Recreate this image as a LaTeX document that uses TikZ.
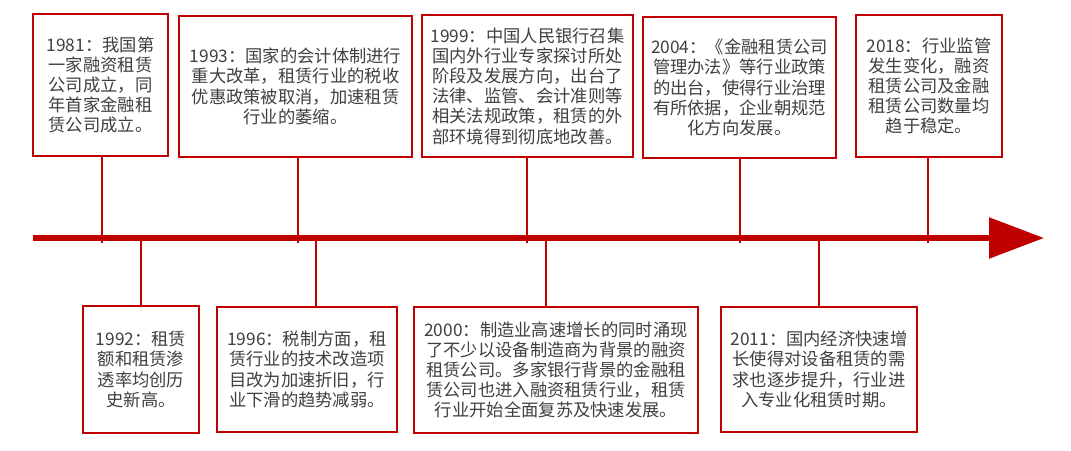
\documentclass[tikz,border=0pt]{standalone}
\usepackage{fontspec}
\newfontfamily\cjk{Noto Sans CJK SC}
\usetikzlibrary{arrows.meta}
\definecolor{dred}{HTML}{C00000}
\definecolor{txt}{HTML}{404040}
\tikzset{
  box/.style={draw=dred, line width=2.6pt, fill=white, align=center, text=txt,
    font=\cjk\fontsize{17.3pt}{20.2pt}\selectfont, inner sep=0pt},
  conn/.style={draw=dred, line width=2.6pt},
  axis/.style={draw=dred, line width=5.5pt, -{Triangle[length=55pt,width=40pt]}, fill=dred}
}
\begin{document}
\begin{tikzpicture}[x=1pt,y=-1pt]
\useasboundingbox (0,0) rectangle (1071,450);
% axis
\coordinate (axL) at (33,238);
\coordinate (axR) at (1044,238);
\draw[axis, dred] (axL) -- (axR);
% tick coordinates on axis
\coordinate (t1981) at (102,243);
\coordinate (t1993) at (298,243);
\coordinate (t1999) at (527,243);
\coordinate (t2004) at (740,243);
\coordinate (t2018) at (928,243);
\coordinate (t1992) at (141,236);
\coordinate (t1996) at (316,236);
\coordinate (t2000) at (546,236);
\coordinate (t2011) at (819,236);
% top boxes
\node[box, minimum width=135pt, minimum height=142pt] (b1981) at (100.5,85)
  {1981：我国第\\一家融资租赁\\公司成立，同\\年首家金融租\\赁公司成立。};
\node[box, minimum width=233pt, minimum height=141pt] (b1993) at (295.5,86.5)
  {1993：国家的会计体制进行\\重大改革，租赁行业的税收\\优惠政策被取消，加速租赁\\行业的萎缩。};
\node[box, minimum width=211pt, minimum height=142pt] (b1999) at (527.5,86)
  {1999：中国人民银行召集\\国内外行业专家探讨所处\\阶段及发展方向，出台了\\法律、监管、会计准则等\\相关法规政策，租赁的外\\部环境得到彻底地改善。};
\node[box, minimum width=193pt, minimum height=141pt] (b2004) at (739.5,87.5)
  {2004：《金融租赁公司\\管理办法》等行业政策\\的出台，使得行业治理\\有所依据，企业朝规范\\化方向发展。};
\node[box, minimum width=146pt, minimum height=142pt] (b2018) at (929,86)
  {2018：行业监管\\发生变化，融资\\租赁公司及金融\\租赁公司数量均\\趋于稳定。};
% bottom boxes
\node[box, minimum width=116pt, minimum height=127pt] (b1992) at (141,369.5)
  {1992：租赁\\额和租赁渗\\透率均创历\\史新高。};
\node[box, minimum width=180pt, minimum height=125pt] (b1996) at (307,369.5)
  {1996：税制方面，租\\赁行业的技术改造项\\目改为加速折旧，行\\业下滑的趋势减弱。};
\node[box, minimum width=284pt, minimum height=126pt] (b2000) at (556,370)
  {2000：制造业高速增长的同时涌现\\了不少以设备制造商为背景的融资\\租赁公司。多家银行背景的金融租\\赁公司也进入融资租赁行业，租赁\\行业开始全面复苏及快速发展。};
\node[box, minimum width=196pt, minimum height=125pt] (b2011) at (819,369.5)
  {2011：国内经济快速增\\长使得对设备租赁的需\\求也逐步提升，行业进\\入专业化租赁时期。};
% connectors
\foreach \n in {1981,1993,1999,2004,2018}{
  \draw[conn] (t\n) -- (t\n |- b\n.south);
}
\foreach \n in {1992,1996,2000,2011}{
  \draw[conn] (t\n) -- (t\n |- b\n.north);
}
\end{tikzpicture}
\end{document}
